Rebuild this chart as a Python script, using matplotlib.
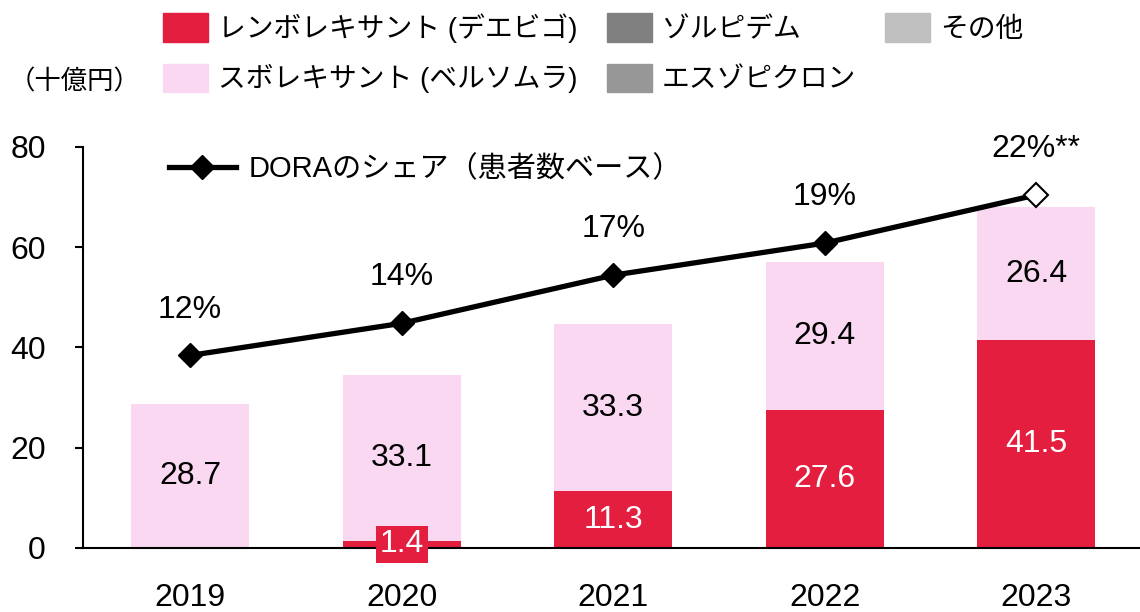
import numpy as np
import matplotlib.pyplot as plt
from matplotlib.patches import Patch
from matplotlib.lines import Line2D

plt.rcParams['font.family'] = ['Liberation Sans', 'Noto Sans CJK JP', 'DejaVu Sans']

# data (十億円)
years = ['2019', '2020', '2021', '2022', '2023']
lemborexant = [0.0, 1.4, 11.3, 27.6, 41.5]
suvorexant = [28.7, 33.1, 33.3, 29.4, 26.4]
zolpidem = [0, 0, 0, 0, 0]
eszopiclone = [0, 0, 0, 0, 0]
others = [0, 0, 0, 0, 0]
dora_share = [12, 14, 17, 19, 22]
share_labels = ['12%', '14%', '17%', '19%', '22%**']

c_red = '#E41E3F'
c_pink = '#FAD8F2'
c_zol = '#808080'
c_esz = '#979797'
c_oth = '#C0C0C0'

fig = plt.figure(figsize=(11.4, 6.12), dpi=100)
ax = fig.add_axes([0.073, 0.1046, 0.927, 0.6555])

x = np.arange(len(years))
w = 0.557
ax.bar(x, lemborexant, w, color=c_red, zorder=2)
ax.bar(x, suvorexant, w, bottom=lemborexant, color=c_pink, zorder=2)

fs = 23
for i in range(len(years)):
    if suvorexant[i] > 0:
        ax.text(x[i], lemborexant[i] + suvorexant[i] / 2, f'{suvorexant[i]:.1f}',
                ha='center', va='center', fontsize=fs, color='black', zorder=4)
    if lemborexant[i] > 0:
        if lemborexant[i] < 5:
            # small segment: label sits on a red box over the axis line
            ax.text(x[i], lemborexant[i] / 2, f'{lemborexant[i]:.1f}',
                    ha='center', va='center', fontsize=fs, color='white', zorder=5,
                    bbox=dict(boxstyle='square,pad=0.12', fc=c_red, ec='none'))
        else:
            ax.text(x[i], lemborexant[i] / 2, f'{lemborexant[i]:.1f}',
                    ha='center', va='center', fontsize=fs, color='white', zorder=4)

ax.set_xlim(-0.505, 4.49)
ax.set_ylim(0, 80)
ax.set_yticks([0, 20, 40, 60, 80])
ax.set_xticks(x)
ax.set_xticklabels(years)
ax.tick_params(axis='x', length=0, pad=25, labelsize=fs)
ax.tick_params(axis='y', length=6, width=1.5, pad=21, labelsize=fs)
for s in ['top', 'right']:
    ax.spines[s].set_visible(False)
ax.spines['left'].set_linewidth(1.5)
ax.spines['bottom'].set_linewidth(1.5)
ax.spines['bottom'].set_zorder(3)

# DORA share line on hidden secondary axis
ax2 = ax.twinx()
ax2.set_ylim(0, 25)
ax2.axis('off')
ax2.plot(x, dora_share, color='black', lw=3.8, marker='D', ms=12,
         mfc='black', mec='black', markevery=[0, 1, 2, 3], zorder=5)
ax2.plot(x[-1:], dora_share[-1:], linestyle='none', marker='D', ms=12,
         mfc='white', mec='black', mew=1.5, zorder=6)
for i in range(len(years)):
    ax2.annotate(share_labels[i], (x[i], dora_share[i]), xytext=(0, 33),
                 textcoords='offset points', ha='center', va='center', fontsize=fs)

line_handle = Line2D([], [], color='black', lw=3.8, marker='D', ms=12)
ax2.legend([line_handle], ['DORAのシェア（患者数ベース）'], loc='upper left',
           bbox_to_anchor=(0.056, 1.045), frameon=False, fontsize=21,
           handlelength=2.3, handletextpad=0.43)

# top legend
handles = [Patch(color=c_red), Patch(color=c_pink), Patch(color=c_zol),
           Patch(color=c_esz), Patch(color=c_oth)]
labels = ['レンボレキサント (デエビゴ)', 'スボレキサント (ベルソムラ)', 'ゾルピデム',
          'エスゾピクロン', 'その他']
fig.legend(handles, labels, ncol=3, loc='upper left', bbox_to_anchor=(0.121, 1.019),
           frameon=False, fontsize=20, handlelength=1.62, handleheight=1.19,
           handletextpad=0.36, labelspacing=0.75, columnspacing=1.05)

fig.text(0.008, 0.866, '（十億円）', fontsize=19, va='center', ha='left')

fig.savefig('out.png', dpi=100)
